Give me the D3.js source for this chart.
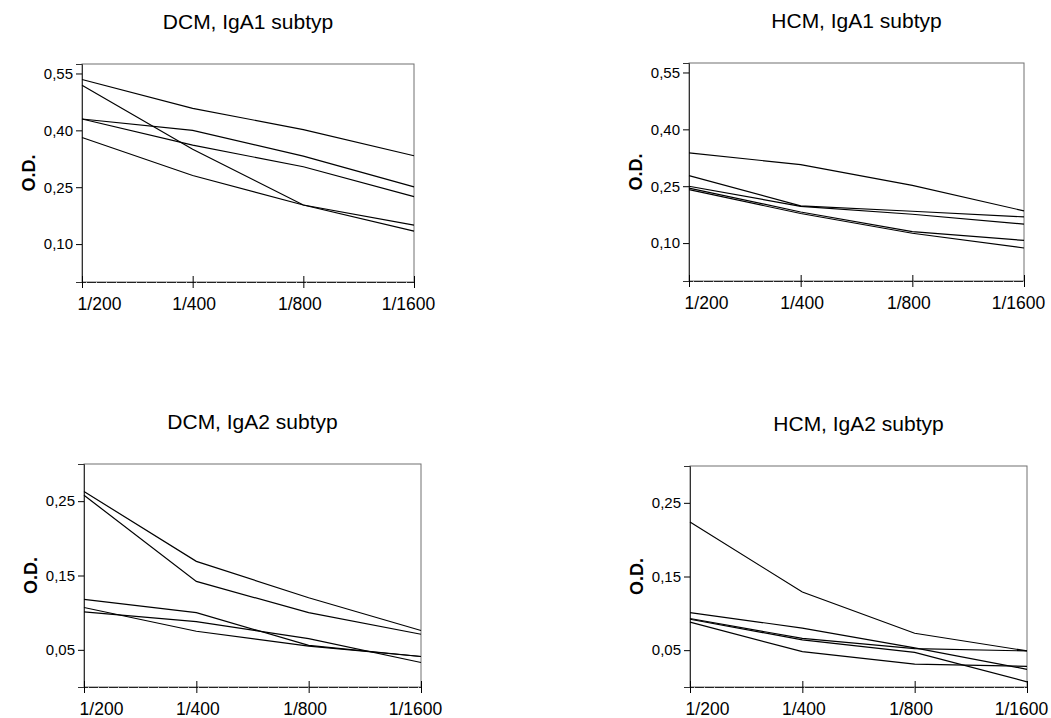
<!DOCTYPE html>
<html>
<head>
<meta charset="utf-8">
<script src="https://cdn.jsdelivr.net/npm/d3@7"></script>
<style>
    body { margin: 0; background: #fff; }
    svg { display: block; font-family: Arial, "Liberation Sans", sans-serif; }
</style>
</head>
<body>
<div id="chart"></div>
<script>
// dilution steps on the x axis
var dilutions = ["1/200", "1/400", "1/800", "1/1600"];

// O.D. values, one row per serum
var dcmIgA1 = [
    [0.534, 0.458, 0.402, 0.333],
    [0.519, 0.350, 0.203, 0.134],
    [0.430, 0.400, 0.332, 0.251],
    [0.430, 0.361, 0.304, 0.225],
    [0.381, 0.281, 0.203, 0.150]
];
var hcmIgA1 = [
    [0.338, 0.307, 0.252, 0.185],
    [0.278, 0.198, 0.184, 0.169],
    [0.250, 0.197, 0.176, 0.150],
    [0.245, 0.182, 0.130, 0.107],
    [0.241, 0.178, 0.126, 0.087]
];
var dcmIgA2 = [
    [0.263, 0.169, 0.120, 0.076],
    [0.258, 0.142, 0.100, 0.071],
    [0.118, 0.100, 0.056, 0.041],
    [0.107, 0.075, 0.055, 0.041],
    [0.101, 0.088, 0.065, 0.033]
];
var hcmIgA2 = [
    [0.224, 0.129, 0.073, 0.049],
    [0.101, 0.080, 0.053, 0.024],
    [0.093, 0.066, 0.052, 0.049],
    [0.092, 0.064, 0.047, 0.007],
    [0.088, 0.048, 0.031, 0.028]
];

// y tick values and tops of the y domains
var igA1Ticks = [0.10, 0.25, 0.40, 0.55];
var igA2Ticks = [0.05, 0.15, 0.25];
var igA1Max = 0.575;
var igA2Max = 0.30;

var titles = ["DCM, IgA1 subtyp", "HCM, IgA1 subtyp", "DCM, IgA2 subtyp", "HCM, IgA2 subtyp"];

// panel boxes on the page
var panels = [
    { title: titles[0], data: dcmIgA1, ticks: igA1Ticks, max: igA1Max, box: { x: 82, y: 64, w: 332, h: 218 } },
    { title: titles[1], data: hcmIgA1, ticks: igA1Ticks, max: igA1Max, box: { x: 689, y: 63, w: 335, h: 218 } },
    { title: titles[2], data: dcmIgA2, ticks: igA2Ticks, max: igA2Max, box: { x: 84, y: 464, w: 337, h: 223 } },
    { title: titles[3], data: hcmIgA2, ticks: igA2Ticks, max: igA2Max, box: { x: 690, y: 466, w: 337, h: 221 } }
];

// small nudges of the x labels, as in the original export
var labelShift = [17, 1, -4, -6];

var svg = d3.select("#chart").append("svg")
    .attr("width", 1051)
    .attr("height", 718);

var fmt = function(d) { return d3.format(".2f")(d).replace(".", ","); };

panels.forEach(function(p) {
    var b = p.box;
    var g = svg.append("g")
        .attr("transform", `translate(${b.x}, ${b.y})`);

    var x = d3.scalePoint()
        .domain(dilutions)
        .range([0, b.w])
        .padding(0);

    var y = d3.scaleLinear()
        .domain([0, p.max])
        .range([b.h, 0]);

    // frame
    g.append("rect")
        .attr("width", b.w)
        .attr("height", b.h)
        .attr("fill", "none")
        .attr("stroke", "#707070")
        .attr("stroke-width", 1);

    // left axis
    var yAxis = g.append("g")
        .call(d3.axisLeft(y).tickValues(p.ticks).tickSize(6).tickPadding(3).tickFormat(fmt));
    yAxis.select(".domain").attr("stroke", "#333");
    yAxis.selectAll("text")
        .attr("font-size", "15px")
        .attr("fill", "#000");
    yAxis.selectAll("line").attr("stroke", "#000");

    // bottom axis, ticks cross the line
    var xAxis = g.append("g")
        .attr("transform", `translate(0, ${b.h})`)
        .call(d3.axisBottom(x).tickSize(6));
    xAxis.select(".domain").attr("stroke", "#222").attr("stroke-dasharray", "9,1");
    xAxis.selectAll("line")
        .attr("y1", -6)
        .attr("y2", 6)
        .attr("stroke", "#000");
    xAxis.selectAll("text")
        .attr("y", 28)
        .attr("dy", 0)
        .attr("dx", (d, i) => labelShift[i])
        .attr("font-size", "17.5px")
        .attr("fill", "#000");

    // serum lines
    var line = d3.line()
        .x((d, i) => x(dilutions[i]))
        .y(d => y(d));

    g.selectAll(".serum")
        .data(p.data)
        .enter()
        .append("path")
        .classed("serum", true)
        .attr("d", line)
        .attr("fill", "none")
        .attr("stroke", "#000")
        .attr("stroke-width", 1.2);

    // title
    g.append("text")
        .attr("x", b.w / 2)
        .attr("y", -35)
        .attr("text-anchor", "middle")
        .attr("font-size", "21px")
        .text(p.title);

    // y label
    g.append("text")
        .attr("transform", `translate(-47, ${b.h / 2}) rotate(-90)`)
        .attr("text-anchor", "middle")
        .attr("font-size", "18px")
        .attr("font-weight", "bold")
        .text("O.D.");
});
</script>
</body>
</html>
